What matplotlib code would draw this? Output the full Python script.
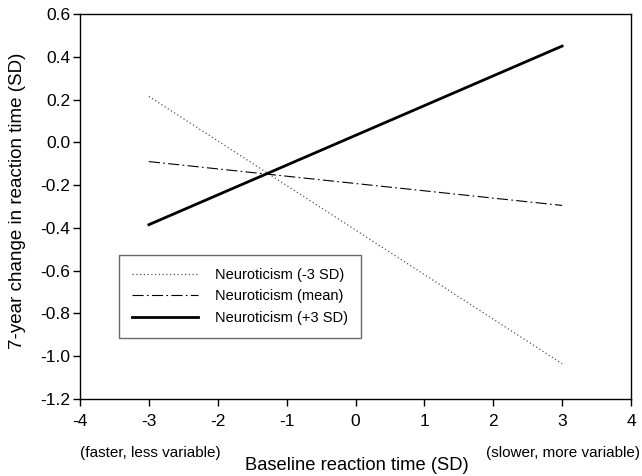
import matplotlib
matplotlib.use("Agg")
import matplotlib.pyplot as plt

plt.rcParams["font.family"] = ["Liberation Sans", "DejaVu Sans"]

x = [-3, 3]
low_n = [0.215, -1.035]     # Neuroticism (-3 SD)
mean_n = [-0.09, -0.295]    # Neuroticism (mean)
high_n = [-0.385, 0.45]     # Neuroticism (+3 SD)
labels = ["Neuroticism (-3 SD)", "Neuroticism (mean)", "Neuroticism (+3 SD)"]
xticks = [-4, -3, -2, -1, 0, 1, 2, 3, 4]
yticks = [-1.2, -1.0, -0.8, -0.6, -0.4, -0.2, 0.0, 0.2, 0.4, 0.6]

fig = plt.figure(figsize=(6.42, 4.76), dpi=100)
ax = fig.add_axes([80 / 642, 1 - 399 / 476, 551 / 642, 385 / 476])

ax.plot(x, low_n, color="#555555", ls=(0, (1, 2)), lw=0.9, label=labels[0])
ax.plot(x, mean_n, color="black", ls=(0, (10, 3, 1.5, 3)), lw=0.8, label=labels[1])
ax.plot(x, high_n, color="black", ls="-", lw=2.0, label=labels[2])

ax.set_xlim(-4, 4)
ax.set_ylim(-1.2, 0.6)
ax.set_xticks(xticks)
ax.set_xticklabels([str(t) for t in xticks])
ax.set_yticks(yticks)
ax.set_yticklabels([f"{t:.1f}" for t in yticks])
ax.tick_params(direction="out", length=5, width=1, labelsize=12.5)
ax.tick_params(axis="x", pad=6)
ax.tick_params(axis="y", pad=2)
for s in ax.spines.values():
    s.set_linewidth(1)

fig.text(18 / 642, 1 - 201 / 476, "7-year change in reaction time (SD)",
         fontsize=13.5, rotation=90, ha="center", va="center")
fig.text(357 / 642, 1 - 465 / 476, "Baseline reaction time (SD)",
         fontsize=13.2, ha="center", va="center")
fig.text(80 / 642, 1 - 453 / 476, "(faster, less variable)", fontsize=11,
         ha="left", va="center")
fig.text(640 / 642, 1 - 453 / 476, "(slower, more variable)", fontsize=11,
         ha="right", va="center")

leg = ax.legend(loc="upper left", bbox_to_anchor=((119 - 80) / 551, (399 - 255) / 385),
                fontsize=10.5, frameon=True, fancybox=False, handlelength=4.5,
                borderpad=0.9, borderaxespad=0, handletextpad=1.15, labelspacing=0.5)
leg.get_frame().set_edgecolor("#444444")
leg.get_frame().set_linewidth(1)

fig.savefig("out.png", dpi=100)
